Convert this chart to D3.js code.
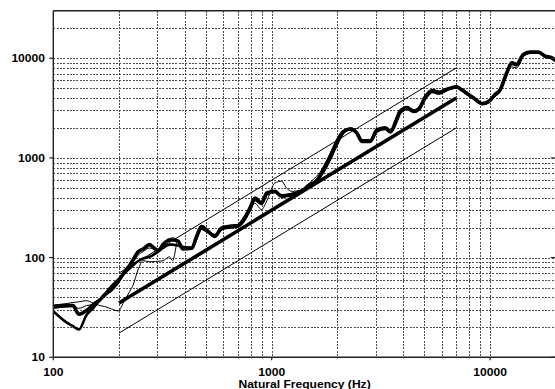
<!DOCTYPE html>
<html>
<head>
<meta charset="utf-8">
<script src="https://cdn.jsdelivr.net/npm/d3@7"></script>
<style>
  html, body { margin: 0; padding: 0; background: #fff; }
  svg { display: block; }
  .lbl { font-family: "Liberation Sans", Arial, sans-serif; font-weight: bold; font-size: 11px; fill: #000; }
</style>
</head>
<body>
<svg id="chart" width="555" height="389"></svg>
<script>
// Natural frequency (Hz) sample points shared by the measured curves
const freq = [100, 114, 123, 131, 142, 152, 164, 172, 185, 198, 212, 224, 232, 244, 258, 276, 286, 302, 318, 340,
  352, 372, 392, 431, 453, 477, 512, 549, 589, 633, 703, 742, 795, 839, 898, 950, 1034, 1110, 1170, 1235,
  1370, 1490, 1604, 1722, 1884, 2000, 2131, 2300, 2455, 2590, 2828, 3036, 3319, 3497, 3753, 3867, 4172, 4476, 4718, 5070,
  5447, 5843, 6404, 7009, 7400, 7964, 8393, 9190, 9875, 10530, 11130, 11920, 12560, 13230, 14190, 15230, 16620, 17840, 19150, 20000];

// Mean response (heavy curve)
const meanCurve = [32, 33, 33, 27, 29.5, 33.6, 38, 42.3, 48, 57.5, 72, 84, 95, 114, 122, 135, 128, 117, 135, 150,
  150, 147, 122, 124, 163, 205, 183, 163, 198, 205, 210, 240, 314, 396, 353, 445, 462, 411, 420, 428,
  462, 539, 583, 763, 1122, 1500, 1844, 1950, 1775, 1467, 1467, 1918, 1990, 1844, 2523, 2938, 3184, 2951, 3100, 4160,
  4745, 4560, 4925, 5165, 4850, 4325, 4008, 3514, 3708, 4325, 4850, 7140, 9010, 8670, 10940, 11540, 11540, 10520, 10130, 9500];

// Run 1 (medium curve)
const run1 = [29, 22.7, 20.5, 19, 26.6, 31, 38, 43, 52, 60, 70, 78, 84, 92, 98, 102, 106, 115, 125, 135,
  135, 132, 128, 125, 158, 195, 180, 168, 192, 200, 205, 230, 300, 380, 345, 430, 455, 420, 425, 435,
  470, 520, 600, 720, 1050, 1400, 1780, 1960, 1800, 1500, 1500, 1850, 1950, 1800, 2400, 2800, 3100, 2900, 3050, 4000,
  4600, 4400, 4850, 5100, 4800, 4300, 3950, 3500, 3700, 4300, 4800, 7000, 8800, 8500, 10700, 11400, 11500, 10400, 10000, 9400];

// Run 2 (thin curve)
const run2 = [33.5, 34.5, 35.5, 36, 37, 35, 33, 32.3, 30.5, 29.2, 37.3, 46, 53, 75, 93, 91, 91, 92, 93, 102,
  93, 147, 130, 128, 150, 200, 185, 160, 200, 210, 215, 235, 300, 350, 303, 371, 561, 583, 499, 462,
  480, 560, 653, 800, 1200, 1550, 1800, 1900, 1750, 1520, 1490, 1950, 2050, 1900, 2650, 3000, 3300, 3000, 3250, 4300,
  4800, 4450, 4950, 5250, 4900, 4400, 4100, 3400, 3550, 4100, 4600, 6800, 8200, 8000, 10300, 11200, 11200, 10600, 10200, 9700];

// Run 3 (thin curve)
const run3 = [31, 32, 32.5, 31, 33, 34, 37, 41, 48, 56, 68, 80, 90, 105, 115, 125, 122, 118, 132, 155,
  158, 150, 125, 122, 165, 210, 190, 170, 195, 208, 212, 245, 320, 390, 360, 440, 470, 430, 430, 440,
  470, 545, 590, 780, 1150, 1550, 1880, 2000, 1820, 1480, 1450, 1900, 2020, 1880, 2500, 2900, 3250, 3000, 3150, 4100,
  4700, 4500, 4900, 5200, 4800, 4250, 3950, 3450, 3650, 4250, 4900, 7200, 9200, 8900, 11000, 11600, 11700, 10500, 10100, 9600];

// Reference trend lines: [start, end] frequencies and levels
const trendFreq = [200, 7000];
const trendUpper = [70, 8000];
const trendMid = [35, 4000];
const trendLower = [17.5, 2000];

// Axis ticks
const xDomain = [100, 20000];
const yDomain = [10, 30000];
const xLabels = [100, 1000, 10000];
const yLabels = [10, 100, 1000, 10000];
const xTitle = "Natural Frequency (Hz)";

const svg = d3.select("#chart");
const plotL = 53.3, plotR = 555.8, plotT = 10.7, plotB = 357.3;

const x = d3.scaleLog().domain(xDomain).range([plotL, plotR]);
const y = d3.scaleLog().domain(yDomain).range([plotB, plotT]);

// minor/major grid values
function gridValues(domain) {
  const vals = [];
  for (let p = Math.floor(Math.log10(domain[0])); p <= Math.ceil(Math.log10(domain[1])); p++) {
    for (let m = 1; m <= 9; m++) {
      const v = m * Math.pow(10, p);
      if (v > domain[0] && v < domain[1]) vals.push(v);
    }
  }
  return vals;
}

const grid = svg.append("g").attr("stroke", "#3a3a3a").attr("stroke-width", 0.9)
  .attr("stroke-dasharray", "2,1.3").attr("shape-rendering", "crispEdges");
grid.selectAll("line.v").data(gridValues(xDomain)).join("line")
  .attr("x1", d => Math.round(x(d)) + 0.5).attr("x2", d => Math.round(x(d)) + 0.5)
  .attr("y1", plotT).attr("y2", plotB);
grid.selectAll("line.h").data(gridValues(yDomain)).join("line")
  .attr("x1", plotL).attr("x2", plotR)
  .attr("y1", d => Math.round(y(d)) + 0.5).attr("y2", d => Math.round(y(d)) + 0.5);

// curves
svg.append("clipPath").attr("id", "plot").append("rect")
  .attr("x", plotL).attr("y", plotT).attr("width", plotR - plotL).attr("height", plotB - plotT);

const line = d3.line().x(d => x(d[0])).y(d => y(d[1])).curve(d3.curveMonotoneX);
const plot = svg.append("g").attr("clip-path", "url(#plot)").attr("fill", "none")
  .attr("stroke", "#000").attr("stroke-linejoin", "round").attr("stroke-linecap", "round");

const series = [
  { v: run2, w: 1 },
  { v: run3, w: 1 },
  { v: run1, w: 2.6 },
  { v: meanCurve, w: 3.6 }
];
series.forEach(s => {
  plot.append("path").attr("d", line(freq.map((f, i) => [f, s.v[i]]))).attr("stroke-width", s.w);
});

const straight = d3.line().x(d => x(d[0])).y(d => y(d[1]));
[[trendUpper, 1], [trendLower, 1], [trendMid, 3.6]].forEach(([vals, w]) => {
  plot.append("path").attr("d", straight(trendFreq.map((f, i) => [f, vals[i]])))
    .attr("stroke-width", w).attr("stroke-linecap", "butt");
});

// frame
const frame = svg.append("g").attr("stroke", "#222").attr("stroke-width", 1.4).attr("fill", "none");
frame.append("line").attr("x1", plotL).attr("x2", plotR).attr("y1", plotT).attr("y2", plotT);
frame.append("line").attr("x1", plotL).attr("x2", plotR).attr("y1", plotB).attr("y2", plotB);
frame.append("line").attr("x1", plotL).attr("x2", plotL).attr("y1", plotT).attr("y2", plotB);
frame.append("line").attr("x1", plotR).attr("x2", plotR).attr("y1", plotT).attr("y2", plotB);

// major ticks
const ticks = svg.append("g").attr("stroke", "#222").attr("stroke-width", 1.2);
ticks.selectAll("line.yl").data(yLabels).join("line")
  .attr("x1", plotL - 4).attr("x2", plotL).attr("y1", d => y(d)).attr("y2", d => y(d));
ticks.selectAll("line.yr").data(yLabels).join("line")
  .attr("x1", plotR - 5).attr("x2", plotR).attr("y1", d => y(d)).attr("y2", d => y(d));
ticks.selectAll("line.xb").data(xLabels).join("line")
  .attr("x1", d => x(d)).attr("x2", d => x(d)).attr("y1", plotB).attr("y2", plotB + 3);

// labels (slightly widened bold face)
const sx = 1.1;
function label(txt, px, py, anchor) {
  svg.append("text").attr("class", "lbl")
    .attr("transform", `translate(${px},${py}) scale(${sx},1)`)
    .attr("text-anchor", anchor).text(txt);
}
yLabels.forEach(v => label(String(v), 45, y(v) + 4, "end"));
xLabels.forEach(v => label(String(v), x(v), 375.5, "middle"));
label(xTitle, (plotL + plotR) / 2, 387.6, "middle");
</script>
</body>
</html>
